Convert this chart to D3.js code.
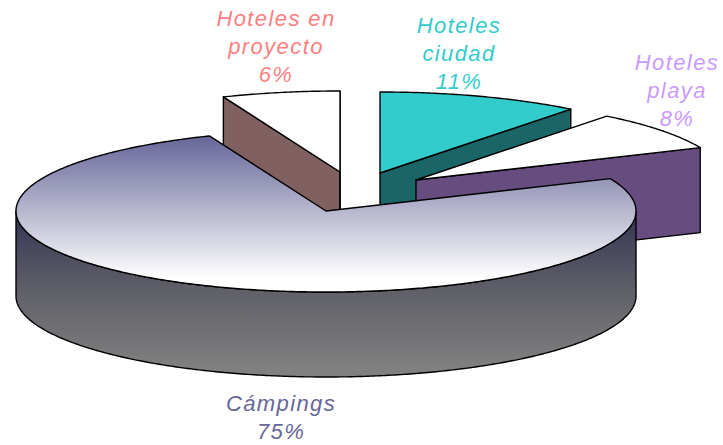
<!DOCTYPE html>
<html><head><meta charset="utf-8">
<script src="https://cdn.jsdelivr.net/npm/d3@7"></script>
<style>html,body{margin:0;padding:0;background:#fff}svg{display:block}</style>
</head><body><div id="chart"></div>
<script>
// Data (slice shares are slightly finer than the rounded labels)
const categories = ["Hoteles en proyecto", "Hoteles ciudad", "Hoteles playa", "Cámpings"];
const values = [6.14, 10.55, 7.91, 75.4];
const labelLines = [["Hoteles en", "proyecto"], ["Hoteles", "ciudad"], ["Hoteles", "playa"], ["Cámpings"]];

// Styling and layout
const width = 723, height = 445;
const labelColors = ["#ff8080", "#33cccc", "#cc99ff", "#666699"];
const topFills = ["#ffffff", "#33cccc", "#ffffff", "url(#topGrad)"];
const wallFills = ["#806060", "#1a6565", "#664c7f", "url(#rimGrad)"];
const explode = [[14, -39], [54, -38], [90, -31], [0, 0]];
const labelX = [276, 459, 677, 281];
const labelY = [26, 33, 70, 411];
const lineStep = 27.8;
const cx = 326, cy = 211, rx = 310, ry = 81, depth = 85;

const svg = d3.select("#chart").append("svg").attr("width", width).attr("height", height);
const defs = svg.append("defs");
function grad(id, y1, y2, stops) {
  const g = defs.append("linearGradient").attr("id", id).attr("gradientUnits", "userSpaceOnUse")
    .attr("x1", 0).attr("x2", 0).attr("y1", y1).attr("y2", y2);
  stops.forEach(([o, c]) => g.append("stop").attr("offset", o).attr("stop-color", c));
}
grad("topGrad", 136, 278, [[0, "#666699"], [1, "#ffffff"]]);
grad("rimGrad", 211, 368, [[0, "#333355"], [0.5, "#5f5f68"], [1, "#808080"]]);

// Pie layout: begins just before the 12 o'clock position, clockwise
const pie = d3.pie().sort(null).value(d => d)
  .startAngle(-22.1 * Math.PI / 180).endAngle(337.9 * Math.PI / 180);
const arcs = pie(values);

const px = d3.scaleLinear().domain([-1, 1]).range([cx - rx, cx + rx]);
const py = d3.scaleLinear().domain([-1, 1]).range([cy - ry, cy + ry]);
const point = (a, i, dz = 0) => [px(Math.sin(a)) + explode[i][0], py(-Math.cos(a)) + explode[i][1] + dz];
const line = d3.line();
const sample = (a0, a1) => {
  const n = Math.max(2, Math.ceil(Math.abs(a1 - a0) / 0.01));
  return d3.range(n + 1).map(k => a0 + (a1 - a0) * k / n);
};
const apex = (i, dz = 0) => [cx + explode[i][0], cy + explode[i][1] + dz];
const face = s => svg.append("path").attr("stroke", "#000").attr("stroke-width", 1.4)
  .attr("stroke-linejoin", "round").attr("d", line(s) + "Z");

arcs.forEach((d, i) => {
  const a0 = d.startAngle, a1 = d.endAngle;
  // radial walls facing the viewer
  [[a0, a0 - Math.PI / 2], [a1, a1 + Math.PI / 2]].forEach(([a, n]) => {
    if (Math.cos(n) < -1e-6) {
      face([apex(i), point(a, i), point(a, i, depth), apex(i, depth)]).attr("fill", wallFills[i]);
    }
  });
  // outer rim: front half only (90deg..270deg)
  const lo = Math.max(a0, Math.PI / 2), hi = Math.min(a1, 3 * Math.PI / 2);
  if (hi > lo) {
    const angs = sample(lo, hi);
    face(angs.map(a => point(a, i)).concat(angs.slice().reverse().map(a => point(a, i, depth))))
      .attr("fill", wallFills[i]);
  }
  // top face
  face([apex(i)].concat(sample(a0, a1).map(a => point(a, i)))).attr("fill", topFills[i]);
});

// Labels
const fmt = d3.format(".0f");
const total = d3.sum(values);
categories.forEach((c, i) => {
  const lines = labelLines[i].concat([fmt(values[i] / total * 100) + "%"]);
  const t = svg.append("text").attr("text-anchor", "middle").attr("fill", labelColors[i])
    .attr("font-family", "'Liberation Sans', Arial, sans-serif").attr("font-style", "italic")
    .attr("font-size", 22).attr("letter-spacing", 1.4);
  lines.forEach((l, k) => t.append("tspan").attr("x", labelX[i]).attr("y", labelY[i] + k * lineStep).text(l));
});
</script></body></html>
